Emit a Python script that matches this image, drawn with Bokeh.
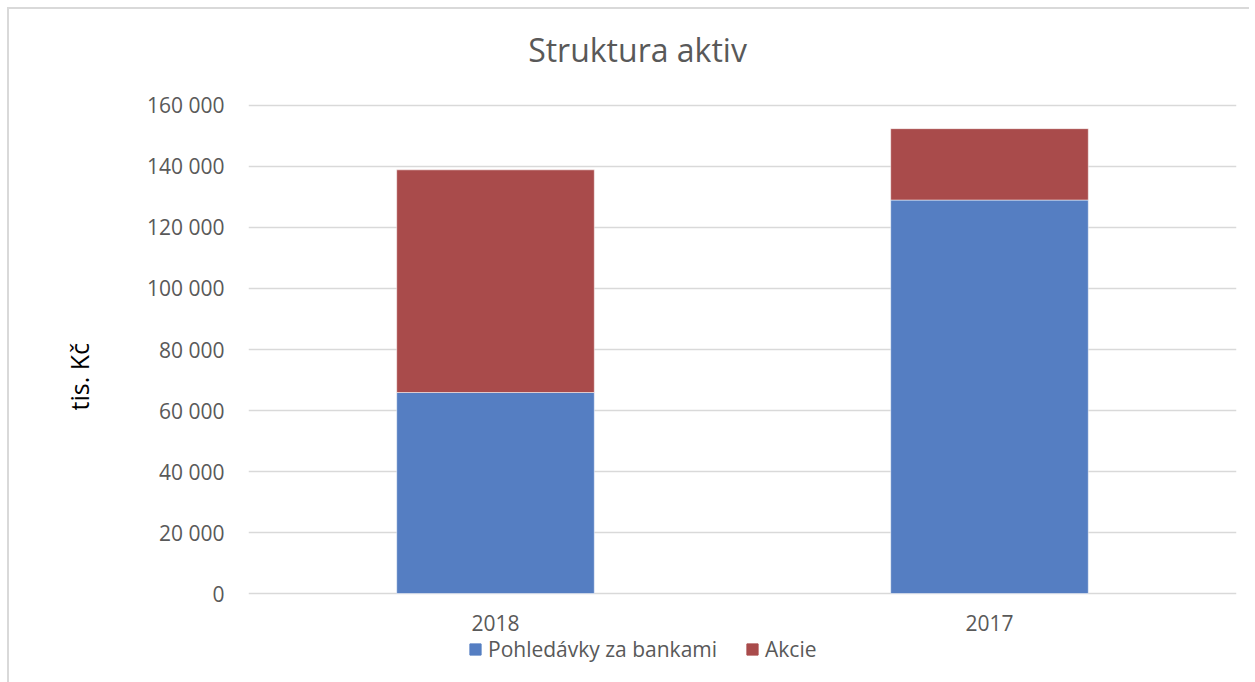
from bokeh.plotting import figure
from bokeh.layouts import column
from bokeh.models import (Range1d, FactorRange, Legend, LegendItem, Title, Label,
                          CustomJSTickFormatter)
from bokeh.embed import file_html
from bokeh.resources import INLINE

# ---- data ----
years = ["2018", "2017"]
pohledavky = [65900, 129000]
akcie = [73000, 23400]
series = ["Pohledávky za bankami", "Akcie"]
colors = ["#557ec2", "#a94b4b"]
y_ticks = [0, 20000, 40000, 60000, 80000, 100000, 120000, 140000, 160000]

data = {"years": years, "Pohledávky za bankami": pohledavky, "Akcie": akcie}

FONT = "Open Sans"
GRAY = "#595959"


def strip(h):
    s = figure(width=1240, height=h, x_range=Range1d(0, 988), y_range=Range1d(0, h),
               output_backend="svg", toolbar_location=None, tools="",
               x_axis_location=None, y_axis_location=None,
               min_border_left=0, min_border_right=0, min_border_top=0, min_border_bottom=0)
    s.outline_line_color = None
    s.grid.visible = False
    return s


# title strip
p0 = strip(80)
p0.add_layout(Label(x=389, y=40, text="Struktura aktiv", text_font=FONT,
                    text_font_size="32px", text_color=GRAY,
                    text_align="center", text_baseline="middle"))

# main chart
p = figure(width=1240, height=547, x_range=FactorRange(*years, range_padding=0),
           y_range=Range1d(-650, 160650), output_backend="svg",
           toolbar_location=None, tools="",
           min_border_left=239, min_border_right=13,
           min_border_top=14, min_border_bottom=41)
p.outline_line_color = None
p.background_fill_color = "white"
p.border_fill_color = "white"

r = p.vbar_stack(series, x="years", width=0.4, source=data, color=colors,
                 line_color="white", line_alpha=0.5, line_width=1)

p.yaxis.ticker = y_ticks
p.yaxis.formatter = CustomJSTickFormatter(
    code="return tick.toFixed(0).replace(/\\B(?=(\\d{3})+(?!\\d))/g, ' ');")
for ax in (p.xaxis[0], p.yaxis[0]):
    ax.axis_line_color = None
    ax.major_tick_line_color = None
    ax.minor_tick_line_color = None
    ax.major_tick_out = 0
    ax.major_tick_in = 0
    ax.major_label_text_font = FONT
    ax.major_label_text_font_size = "21px"
    ax.major_label_text_color = GRAY
p.yaxis.major_label_standoff = 24
p.xaxis.major_label_standoff = 19

p.xgrid.grid_line_color = None
p.ygrid.ticker = y_ticks
p.ygrid.grid_line_color = "#d9d9d9"
p.ygrid.grid_line_width = 1.5

ylab = Title(text="tis. Kč", align="left", offset=185, standoff=98,
             text_font=FONT, text_font_size="25px", text_font_style="normal",
             text_color="#000000")
p.add_layout(ylab, "left")

# legend strip
p2 = strip(46)
proxies = [p2.vbar(x=[-5000], top=[-1000], bottom=[-1100], width=1, color=c)
           for c in colors]
legend = Legend(items=[LegendItem(label=series[i], renderers=[proxies[i]]) for i in range(2)],
                orientation="horizontal", location=(220, 19),
                label_text_font=FONT, label_text_font_size="21px",
                label_text_color=GRAY, glyph_width=14, glyph_height=14,
                label_standoff=6, spacing=28, padding=0, margin=0,
                border_line_color=None, background_fill_alpha=0)
p2.add_layout(legend, "center")

layout = column(p0, p, p2, spacing=0,
                styles={"border-left": "2px solid #d9d9d9", "border-top": "2px solid #d9d9d9",
                        "margin-left": "7px", "margin-top": "7px"})

open("out.html", "w").write(file_html(layout, INLINE))
